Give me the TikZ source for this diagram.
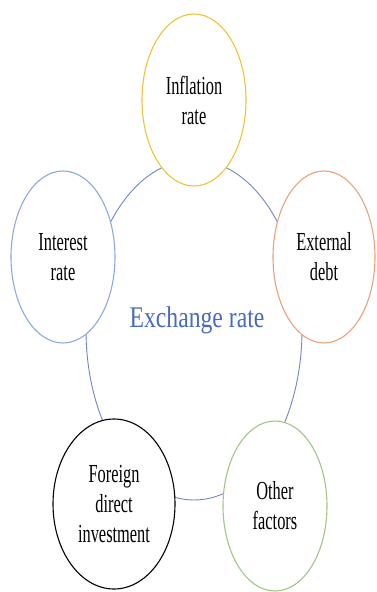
\documentclass[tikz,border=0pt]{standalone}
\usepackage{fontspec}
\usetikzlibrary{shapes.geometric}
\newfontfamily\lblfont[FakeStretch=0.63]{Liberation Serif}
\newfontfamily\exfont[FakeStretch=0.79]{Liberation Serif}
\definecolor{cyellow}{HTML}{EDC33A}
\definecolor{cblue}{HTML}{8EA9DB}
\definecolor{corange}{HTML}{E9A27A}
\definecolor{cgreen}{HTML}{A3C585}
\definecolor{cring}{HTML}{6F86C6}
\definecolor{ctext}{HTML}{4A6BB8}
\tikzset{
  factor/.style={ellipse, draw, line width=1.1pt, fill=white, inner sep=0pt,
    minimum width=104pt, minimum height=172pt, align=center,
    font=\lblfont\fontsize{26}{30}\selectfont, text=black},
  ring/.style={ellipse, draw=cring, line width=0.9pt, inner sep=0pt,
    minimum width=216pt, minimum height=340pt},
  centertext/.style={font=\exfont\fontsize{30}{34}\selectfont, text=ctext, inner sep=0pt}
}
\begin{document}
\begin{tikzpicture}[x=1pt,y=-1pt]
\useasboundingbox (0,0) rectangle (376,592);
\node[ring] (exch) at (194,330) {};
\node[centertext] (exlabel) at (197,320) {Exchange rate};
\node[factor, draw=cyellow] (infl) at (194,100) {Inflation\\rate};
\node[factor, draw=cblue] (intr) at (63,257) {Interest\\rate};
\node[factor, draw=corange, minimum width=102pt] (ext) at (324,257) {External\\debt};
\node[factor, draw=black, minimum width=122pt, minimum height=170pt] (fdi) at (114,504) {Foreign\\direct\\investment};
\node[factor, draw=cgreen, minimum height=170pt] (oth) at (275,506) {Other\\factors};
\end{tikzpicture}
\end{document}
